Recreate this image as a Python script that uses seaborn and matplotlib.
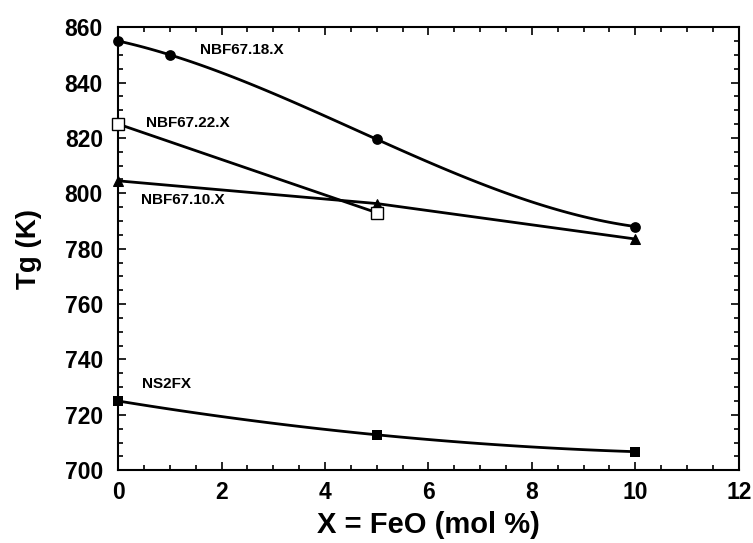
import numpy as np
import pandas as pd
import seaborn as sns
import matplotlib.pyplot as plt
from matplotlib.ticker import MultipleLocator

# data
x_18 = [0, 1, 5, 10]
tg_18 = [855, 850, 819.5, 788]
x_22 = [0, 5]
tg_22 = [825, 793]
x_10 = [0, 5, 10]
tg_10 = [804.5, 796.3, 783.5]
x_ns = [0, 5, 10]
tg_ns = [725, 712.8, 706.7]

sns.set_style("ticks", {'text.color': 'black', 'axes.labelcolor': 'black',
                        'xtick.color': 'black', 'ytick.color': 'black',
                        'axes.edgecolor': 'black'})
plt.rcParams['font.family'] = ['Liberation Sans', 'DejaVu Sans']
plt.rcParams['font.weight'] = 'bold'

fig = plt.figure(figsize=(7.53, 5.43), dpi=100)
ax = fig.add_axes([0.157, 0.134, 0.824, 0.816])

lw = 2.0
# smooth curves (exact polynomial through the points, drawn by regplot)
sns.regplot(x=x_18, y=tg_18, order=3, ci=None, ax=ax, color='black',
            scatter_kws={'s': 60, 'marker': 'o', 'zorder': 5, 'alpha': 1,
                         'clip_on': False, 'linewidths': 0},
            line_kws={'lw': lw})
sns.regplot(x=x_ns, y=tg_ns, order=2, ci=None, ax=ax, color='black',
            marker='s', scatter_kws={'s': 60, 'zorder': 5, 'alpha': 1,
                                     'clip_on': False, 'linewidths': 0},
            line_kws={'lw': lw})
# straight segments
sns.lineplot(x=x_22, y=tg_22, ax=ax, color='black', lw=lw, marker='s',
             markersize=8, markerfacecolor='white', markeredgecolor='black',
             markeredgewidth=1, zorder=5, clip_on=False)
sns.lineplot(x=x_10, y=tg_10, ax=ax, color='black', lw=lw, marker='^',
             markersize=6.5, markerfacecolor='black', markeredgecolor='black',
             zorder=4, clip_on=False)

for label, (lx, ly) in [('NBF67.18.X', (1.58, 851.6)),
                        ('NBF67.22.X', (0.53, 825.4)),
                        ('NBF67.10.X', (0.44, 797.5)),
                        ('NS2FX', (0.46, 731))]:
    ax.text(lx, ly, label, fontsize=11, fontweight='bold', va='center',
            ha='left', color='black')

ax.set_xlim(0, 12)
ax.set_ylim(700, 860)
ax.xaxis.set_major_locator(MultipleLocator(2))
ax.xaxis.set_minor_locator(MultipleLocator(0.5))
ax.yaxis.set_major_locator(MultipleLocator(20))
ax.yaxis.set_minor_locator(MultipleLocator(5))
ax.tick_params(which='both', direction='in', top=True, right=True, width=1.2,
               color='black', labelcolor='black')
ax.tick_params(which='major', length=6, labelsize=16.5)
ax.tick_params(axis='x', which='major', pad=8)
ax.tick_params(axis='y', which='major', pad=11)
ax.tick_params(which='minor', length=3.5)
for s in ax.spines.values():
    s.set_linewidth(1.5)
    s.set_color('black')
for t in ax.get_xticklabels() + ax.get_yticklabels():
    t.set_fontweight('bold')

ax.set_xlabel('X = FeO (mol %)', fontsize=21, fontweight='bold', labelpad=5)
ax.set_ylabel('Tg (K)', fontsize=20, fontweight='bold', labelpad=16)

fig.savefig('out.png', dpi=100)
